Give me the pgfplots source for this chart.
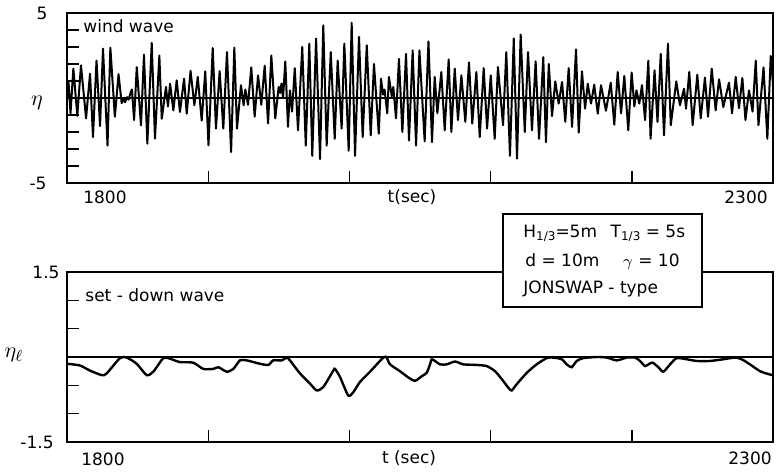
\documentclass[border=0pt]{standalone}
\usepackage{fontspec}
\setmainfont{DejaVu Sans}
\usepackage{pgfplots}
\pgfplotsset{compat=1.18}
\usepackage{pgfplotstable}
\pgfplotstableread{
t eta
1800.0 0
1801.1 0.9
1802.5 -0.9
1804.5 1.73
1807.3 -1.05
1809.9 1.92
1813.5 -1.2
1816.3 1.43
1818.4 -2.3
1820.9 2.2
1823.4 -1.65
1825.5 2.9
1828.7 -2.8
1830.7 2.96
1833.9 -1.1
1836.5 1.4
1838.7 -0.3
1840.0 -0.05
1841.1 -0.25
1842.5 0.05
1843.6 -0.1
1845.0 0.3
1846.0 0.5
1847.5 -1.3
1849.4 1.82
1852.4 -1.61
1854.5 2.55
1856.9 -2.69
1860.0 3.24
1862.3 -2.39
1865.4 2.5
1867.1 -1.22
1870.1 0.65
1871.5 -0.5
1873.0 0.84
1875.3 -0.73
1877.7 1.04
1880.0 -0.82
1882.9 1.14
1884.8 -0.92
1887.5 1.6
1890.2 -0.43
1892.6 1.24
1895.4 -1.33
1897.9 1.56
1900.2 -2.78
1903.2 2.94
1905.5 -1.8
1908.1 1.58
1910.7 -1.8
1913.3 2.7
1916.2 -3.18
1918.5 2.96
1920.4 -1.8
1923.2 0.75
1925.1 -0.43
1926.3 0.5
1928.2 -0.4
1930.5 1.8
1932.9 -1.1
1935.3 1.33
1937.6 -0.4
1940.0 1.9
1942.4 -1.5
1944.7 2.5
1947.5 -1.2
1949.9 0.65
1950.9 0.3
1951.9 0.85
1953.0 0.0
1954.6 2.15
1956.5 -1.7
1957.9 0.45
1959.4 -0.8
1961.3 1.75
1963.6 -1.9
1966.6 3.0
1969.1 -2.8
1971.6 3.2
1973.7 -3.4
1976.4 3.5
1979.2 -3.6
1981.5 4.27
1983.9 -2.8
1986.8 2.7
1989.6 -2.4
1991.7 2.2
1994.5 -1.8
1996.4 3.2
1999.5 -3.1
2001.6 4.43
2004.0 -3.4
2006.8 3.6
2009.4 -2.3
2012.3 3.1
2015.1 -2.2
2017.4 2.0
2020.8 -2.1
2022.4 1.14
2023.8 0.2
2024.9 0.5
2026.8 -0.9
2028.0 1.24
2030.0 0.1
2031.1 0.65
2033.0 -1.2
2035.1 2.3
2037.5 -2.0
2040.1 2.6
2042.2 -2.5
2044.8 2.8
2047.2 -2.8
2049.6 2.8
2053.3 -2.55
2056.0 3.33
2058.5 -2.6
2060.4 1.24
2062.3 -0.9
2065.1 1.53
2067.5 -1.9
2070.3 2.27
2072.2 -2.0
2074.6 1.73
2076.9 -1.3
2079.3 1.33
2082.1 -1.4
2084.7 2.1
2087.0 -1.5
2089.9 1.53
2092.3 -2.3
2095.1 1.76
2097.5 -1.8
2100.1 1.33
2102.9 -2.4
2105.2 1.82
2108.8 -1.6
2111.1 2.7
2113.7 -3.4
2116.4 3.5
2118.7 -3.57
2121.3 3.73
2124.2 -2.0
2126.5 2.7
2129.3 -1.9
2131.9 2.16
2134.3 -2.4
2137.3 2.4
2139.2 -2.6
2141.2 2.0
2143.5 -1.06
2145.8 0.98
2148.2 -0.33
2150.6 0.94
2152.9 -1.4
2155.3 1.76
2157.7 -1.7
2160.5 2.86
2162.4 -2.04
2164.7 1.57
2166.9 -0.63
2168.8 0.84
2171.1 -0.33
2173.4 0.78
2175.9 -0.92
2178.2 0.75
2181.7 -0.75
2185.1 0.9
2187.6 -1.57
2190.0 1.53
2192.4 -0.9
2194.7 1.3
2197.5 -1.9
2199.9 1.5
2201.8 -0.5
2203.3 0.45
2205.3 -0.33
2207.2 0.75
2209.4 -1.3
2211.7 2.2
2213.3 -2.4
2216.1 1.63
2218.2 -1.4
2220.5 2.6
2222.8 -2.2
2225.6 3.2
2227.6 -1.6
2231.5 0.98
2234.1 -0.43
2237.0 0.55
2238.4 -0.63
2240.7 1.53
2243.1 -1.6
2246.4 1.37
2248.8 -1.2
2251.8 1.2
2254.0 -1.1
2256.6 1.73
2259.4 -0.73
2261.8 1.1
2264.8 -0.53
2268.8 0.9
2271.0 -0.9
2273.6 1.24
2275.9 -0.6
2278.3 1.18
2280.5 -1.3
2283.0 0.45
2285.5 -0.8
2287.8 2.2
2289.7 -1.6
2293.3 1.8
2296.0 -2.4
2298.4 2.47
2300.0 0.8
}\windwave
\pgfplotstableread{
t eta
1800.0 -0.12
1809.2 -0.15
1816.3 -0.24
1824.6 -0.32
1828.1 -0.29
1837.5 -0.02
1842.3 -0.01
1849.4 -0.12
1856.4 -0.32
1861.1 -0.26
1868.2 -0.02
1872.9 -0.03
1880.0 -0.09
1889.4 -0.10
1896.5 -0.21
1903.6 -0.21
1907.2 -0.18
1913.1 -0.26
1917.8 -0.21
1922.5 -0.06
1927.3 -0.06
1936.7 -0.12
1942.6 -0.14
1946.1 -0.06
1952.1 -0.06
1955.6 -0.01
1957.9 -0.06
1965.0 -0.29
1972.1 -0.47
1976.8 -0.59
1981.5 -0.53
1988.6 -0.24
1989.8 -0.21
1993.3 -0.35
1999.2 -0.68
2002.8 -0.62
2007.5 -0.44
2014.6 -0.26
2024.0 -0.01
2026.4 -0.01
2028.8 -0.13
2035.8 -0.25
2041.7 -0.36
2046.5 -0.42
2051.2 -0.34
2054.7 -0.28
2057.1 -0.13
2058.3 -0.04
2060.6 -0.07
2064.2 -0.13
2068.9 -0.13
2074.8 -0.08
2080.7 -0.13
2090.2 -0.14
2097.2 -0.16
2103.1 -0.25
2107.9 -0.39
2112.5 -0.54
2114.9 -0.59
2118.5 -0.48
2125.6 -0.28
2132.6 -0.13
2139.7 -0.02
2144.4 -0.01
2150.4 -0.04
2153.9 -0.13
2157.4 -0.18
2161.0 -0.07
2165.6 -0.02
2175.1 0.0
2182.2 -0.01
2189.3 -0.06
2196.4 -0.01
2202.3 -0.01
2205.8 -0.07
2209.4 -0.16
2212.4 -0.12
2214.8 -0.10
2218.8 -0.18
2222.3 -0.26
2227.1 -0.13
2231.8 -0.02
2238.9 -0.04
2246.0 -0.07
2255.4 -0.07
2264.8 -0.04
2273.1 -0.01
2277.8 -0.04
2283.7 -0.13
2290.8 -0.25
2297.9 -0.31
2300.0 -0.32
}\setdown
\begin{document}
\begin{tikzpicture}[every node/.style={font=\fontsize{8.5}{10}\selectfont, inner sep=0pt}]
\path[use as bounding box] (0pt,0pt) rectangle (388pt,235.5pt);
\pgfplotsset{panel/.style={scale only axis, width=353pt, height=85pt,
  xmin=1800, xmax=2300, xtick={1900,2000,2100,2200},
  xticklabels={}, yticklabels={}, tick align=inside,
  xtick pos=bottom, ytick pos=left, major tick length=6pt,
  axis line style={line width=1pt},
  major tick style={line width=0.7pt, black}}}
\begin{axis}[panel, at={(33.5pt,144pt)}, anchor=south west,
  ymin=-5, ymax=5, ytick={-4,-3,-2,-1,1,2,3,4}]
\draw[line width=0.6pt] (axis cs:1800,0) -- (axis cs:2300,0);
\addplot[black, line width=1pt, line join=round] table[x=t, y=eta] {\windwave};
\end{axis}
\begin{axis}[panel, at={(33.5pt,14.5pt)}, anchor=south west,
  ymin=-1.5, ymax=1.5, ytick={-1,-0.5,0.5,1}]
\draw[line width=0.6pt] (axis cs:1800,0) -- (axis cs:2300,0);
\addplot[black, line width=1.2pt, smooth, tension=0.4] table[x=t, y=eta] {\setdown};
\end{axis}
% top panel labels
\node at (21pt,229pt) {5};
\node at (19pt,144pt) {-5};
\node at (18.5pt,184pt) {\fontsize{11}{12}\selectfont$\eta$};
\node[anchor=base west] at (41.5pt,219pt) {wind wave};
\node at (52.5pt,137pt) {1800};
\node at (206pt,137pt) {t(sec)};
\node at (373pt,137pt) {2300};
% bottom panel labels
\node at (23pt,99.5pt) {1.5};
\node at (18.5pt,14.5pt) {-1.5};
\node at (7pt,58pt) {\fontsize{11}{12}\selectfont$\eta_\ell$};
\node[anchor=base west] at (42.5pt,84.7pt) {set - down wave};
\node at (51.5pt,6pt) {1800};
\node at (204.5pt,6.5pt) {t (sec)};
\node at (375pt,6.5pt) {2300};
% parameter box
\draw[line width=0.6pt, fill=white] (251.5pt,82pt) rectangle (351pt,128.5pt);
\node[anchor=base west] at (261.5pt,116.9pt) {H\raisebox{-0.35ex}{\fontsize{6}{7}\selectfont 1/3}=5m\hspace{0.8em}T\raisebox{-0.35ex}{\fontsize{6}{7}\selectfont 1/3} = 5s};
\node[anchor=base west] at (262.5pt,102.2pt) {d = 10m\hspace{1.4em}$\gamma$ = 10};
\node[anchor=base west] at (261.5pt,88.8pt) {JONSWAP - type};
\end{tikzpicture}
\end{document}
